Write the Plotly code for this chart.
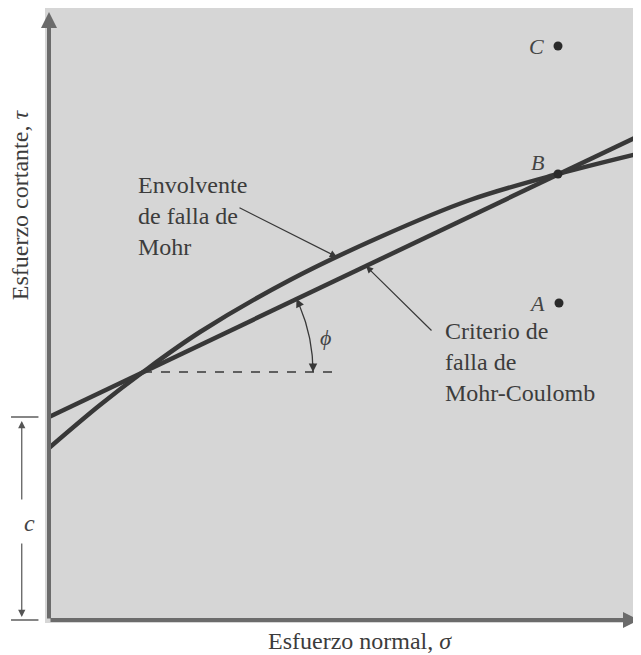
import numpy as np
import plotly.graph_objects as go

# Values (same unit on both axes)
# Curved Mohr failure envelope
env_sigma = [0, 51, 94, 151, 241, 331, 421, 509, 592]
env_tau = [172, 215, 248, 288, 340, 383, 420, 446, 467]

# Straight Mohr-Coulomb criterion: tau = c + sigma * tan(phi)
mc_sigma = [0, 592]
mc_tau = [203, 485]
c_value = 203
phi_deg = 25.5

# point where phi is measured and end of the dashed reference
phi_sigma, phi_tau = 94, 248
dash_sigma_end = 284

# stress states A, B, C
pt_labels = ["A", "B", "C"]
pt_sigma = [510, 509, 509]
pt_tau = [317, 446, 574]

ink = "#383838"
axis_col = "#6b6b6b"
serif = "Liberation Serif"

fig = go.Figure()

fig.add_trace(
    go.Scatter(
        x=env_sigma,
        y=env_tau,
        mode="lines",
        line=dict(color=ink, width=4.5, shape="spline", smoothing=1.0),
        hoverinfo="skip",
        name="Envolvente de falla de Mohr",
    )
)

fig.add_trace(
    go.Scatter(
        x=mc_sigma,
        y=mc_tau,
        mode="lines",
        line=dict(color=ink, width=4.5),
        hoverinfo="skip",
        name="Criterio de falla de Mohr-Coulomb",
    )
)

# dashed horizontal reference for phi
fig.add_trace(
    go.Scatter(
        x=[phi_sigma, dash_sigma_end],
        y=[phi_tau, phi_tau],
        mode="lines",
        line=dict(color=ink, width=1.6, dash="dash"),
        hoverinfo="skip",
    )
)

# arc for the angle phi
arc_r = 170
theta = np.radians(np.linspace(0, phi_deg, 40))
arc_x = phi_sigma + arc_r * np.cos(theta)
arc_y = phi_tau + arc_r * np.sin(theta)
fig.add_trace(
    go.Scatter(
        x=arc_x,
        y=arc_y,
        mode="lines",
        line=dict(color=ink, width=1.3),
        hoverinfo="skip",
    )
)

# points A, B, C
fig.add_trace(
    go.Scatter(
        x=pt_sigma,
        y=pt_tau,
        mode="markers",
        marker=dict(color="#2a2a2a", size=9),
        hoverinfo="skip",
    )
)

annotations = []

# point labels
for lab, sx, ty in zip(pt_labels, pt_sigma, pt_tau):
    dy = 12 if lab == "B" else 0
    annotations.append(
        dict(
            x=sx - 12, y=ty + dy, xref="x", yref="y",
            text="<i>" + lab + "</i>", showarrow=False,
            xanchor="right", yanchor="middle",
            font=dict(family=serif, size=22, color="#444"),
        )
    )

# arrowheads at both ends of the phi arc
phi = np.radians(phi_deg)
top_x = phi_sigma + arc_r * np.cos(phi)
top_y = phi_tau + arc_r * np.sin(phi)
annotations.append(
    dict(
        x=top_x, y=top_y, xref="x", yref="y",
        ax=top_x + 10 * np.sin(phi), ay=top_y - 10 * np.cos(phi),
        axref="x", ayref="y", text="", showarrow=True,
        arrowhead=2, arrowsize=1.3, arrowwidth=1.3, arrowcolor=ink,
    )
)
annotations.append(
    dict(
        x=phi_sigma + arc_r, y=phi_tau, xref="x", yref="y",
        ax=phi_sigma + arc_r, ay=phi_tau + 10,
        axref="x", ayref="y", text="", showarrow=True,
        arrowhead=2, arrowsize=1.3, arrowwidth=1.3, arrowcolor=ink,
    )
)
annotations.append(
    dict(
        x=276, y=283, xref="x", yref="y", text="<i>ϕ</i>", showarrow=False,
        font=dict(family=serif, size=22, color="#444"),
    )
)

# leader arrows with their texts
annotations.append(
    dict(
        x=288, y=363, xref="x", yref="y",
        ax=189, ay=413, axref="x", ayref="y", text="", showarrow=True,
        arrowhead=2, arrowsize=1.2, arrowwidth=1.2, arrowcolor=ink,
    )
)
annotations.append(
    dict(
        x=87, y=404, xref="x", yref="y",
        text="Envolvente<br>de falla de<br>Mohr", showarrow=False,
        xanchor="left", yanchor="middle", align="left",
        font=dict(family=serif, size=24, color="#3c3c3c"),
    )
)
annotations.append(
    dict(
        x=317, y=354, xref="x", yref="y",
        ax=384, ay=288, axref="x", ayref="y", text="", showarrow=True,
        arrowhead=2, arrowsize=1.2, arrowwidth=1.2, arrowcolor=ink,
    )
)
annotations.append(
    dict(
        x=394, y=258, xref="x", yref="y",
        text="Criterio de<br>falla de<br>Mohr-Coulomb", showarrow=False,
        xanchor="left", yanchor="middle", align="left",
        font=dict(family=serif, size=24, color="#3c3c3c"),
    )
)

# axes drawn as arrows
annotations.append(
    dict(
        x=590, y=0, xref="x", yref="y", ax=0, ay=0, axref="x", ayref="y",
        text="", showarrow=True, arrowhead=2, arrowsize=0.8,
        arrowwidth=4, arrowcolor=axis_col,
    )
)
annotations.append(
    dict(
        x=0, y=608, xref="x", yref="y", ax=0, ay=0, axref="x", ayref="y",
        text="", showarrow=True, arrowhead=2, arrowsize=0.8,
        arrowwidth=4, arrowcolor=axis_col,
    )
)

# cohesion c dimension on the left
c_x = -0.039
annotations.append(
    dict(
        x=c_x, y=c_value, xref="paper", yref="y", ax=0, ay=84,
        text="", showarrow=True, arrowhead=2, arrowsize=1.2,
        arrowwidth=1.2, arrowcolor="#555", standoff=4,
    )
)
annotations.append(
    dict(
        x=c_x, y=0, xref="paper", yref="y", ax=0, ay=-78,
        text="", showarrow=True, arrowhead=2, arrowsize=1.2,
        arrowwidth=1.2, arrowcolor="#555", standoff=3,
    )
)
annotations.append(
    dict(
        x=c_x, y=c_value / 2.1, xref="paper", yref="y", text="<i>c</i>",
        showarrow=False, font=dict(family=serif, size=24, color="#444"),
    )
)

# axis titles
annotations.append(
    dict(
        x=0.528, y=-0.029, xref="paper", yref="paper",
        text="Esfuerzo normal, <i>σ</i>", showarrow=False,
        yanchor="middle", font=dict(family=serif, size=24, color="#3c3c3c"),
    )
)
annotations.append(
    dict(
        x=-0.043, y=0.68, xref="paper", yref="paper",
        text="Esfuerzo cortante, <i>τ</i>", showarrow=False, textangle=-90,
        xanchor="center", yanchor="middle",
        font=dict(family=serif, size=24, color="#3c3c3c"),
    )
)

shapes = [
    dict(type="line", xref="paper", yref="y", x0=-0.057, x1=-0.011,
         y0=c_value, y1=c_value, line=dict(color="#444", width=1.3)),
    dict(type="line", xref="paper", yref="y", x0=-0.057, x1=-0.011,
         y0=0, y1=0, line=dict(color="#444", width=1.3)),
]

fig.update_layout(
    width=633,
    height=647,
    margin=dict(l=37, r=0, t=0, b=32),
    paper_bgcolor="white",
    plot_bgcolor="#d6d6d6",
    showlegend=False,
    annotations=annotations,
    shapes=shapes,
    xaxis=dict(range=[-4, 592], visible=False, fixedrange=True),
    yaxis=dict(range=[-3, 612], visible=False, fixedrange=True),
)

fig.write_html("out.html")
